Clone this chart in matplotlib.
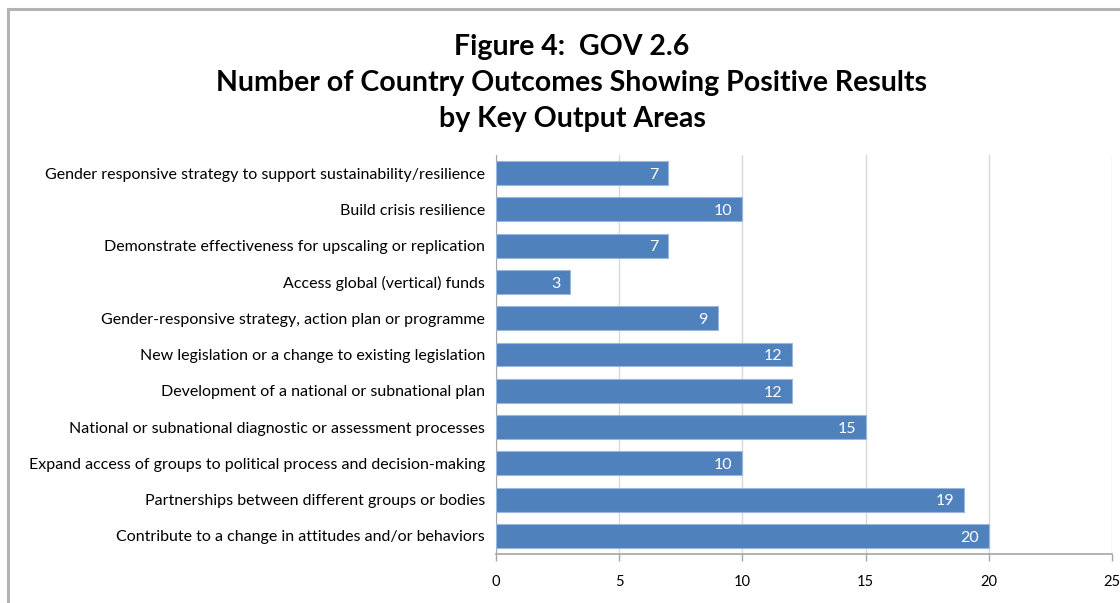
import matplotlib
matplotlib.use("Agg")
import matplotlib.pyplot as plt
from matplotlib.patches import Rectangle

categories = [
    "Gender responsive strategy to support sustainability/resilience",
    "Build crisis resilience",
    "Demonstrate effectiveness for upscaling or replication",
    "Access global (vertical) funds",
    "Gender-responsive strategy, action plan or programme",
    "New legislation or a change to existing legislation",
    "Development of a national or subnational plan",
    "National or subnational diagnostic or assessment processes",
    "Expand access of groups to political process and decision-making",
    "Partnerships between different groups or bodies",
    "Contribute to a change in attitudes and/or behaviors",
]
values = [7, 10, 7, 3, 9, 12, 12, 15, 10, 19, 20]
x_ticks = [0, 5, 10, 15, 20, 25]
title_lines = ["Figure 4:  GOV 2.6",
               "Number of Country Outcomes Showing Positive Results",
               "by Key Output Areas"]

plt.rcParams["font.family"] = ["Lato", "DejaVu Sans"]

W, H = 1120, 603
fig = plt.figure(figsize=(W / 100, H / 100), dpi=100)
fig.patch.set_facecolor("white")

# outer chart frame
fig.patches.append(Rectangle((8 / W, -0.02), 1.2, 1 - 9 / H + 0.02,
                             transform=fig.transFigure, fill=False,
                             edgecolor="#b3b3b3", linewidth=2.2))

ax = fig.add_axes([496 / W, 1 - 554 / H, (1112 - 496) / W, (554 - 155) / H])

n = len(categories)
ypos = list(range(n))
ax.barh(ypos, values, height=0.66, color="#4F81BD",
        edgecolor="#9bb7dc", linewidth=0.8, zorder=3)
for y, v in zip(ypos, values):
    ax.text(v - 0.4, y + 0.05, str(v), ha="right", va="center",
            color="white", fontsize=11.5, zorder=4)

ax.set_xlim(0, 25)
ax.set_ylim(n - 0.5, -0.5)
ax.set_xticks(x_ticks)
ax.set_xticklabels([str(t) for t in x_ticks], fontsize=10.5)
ax.set_yticks(ypos)
ax.set_yticklabels(categories, fontsize=11.5)
ax.tick_params(axis="y", length=0, pad=8)
ax.tick_params(axis="x", length=5, width=1, color="#a6a6a6", pad=10)

ax.grid(axis="x", color="#d9d9d9", linewidth=1, zorder=0)
for s in ["top", "right"]:
    ax.spines[s].set_visible(False)
ax.spines["left"].set_color("#a6a6a6")
ax.spines["bottom"].set_color("#a6a6a6")
ax.spines["bottom"].set_linewidth(1.2)

for i, line in enumerate(title_lines):
    fig.text(572 / W, 1 - (47 + 36 * i) / H, line, ha="center", va="center",
             fontsize=20.5, fontweight="bold")

fig.savefig("out.png", dpi=100)
